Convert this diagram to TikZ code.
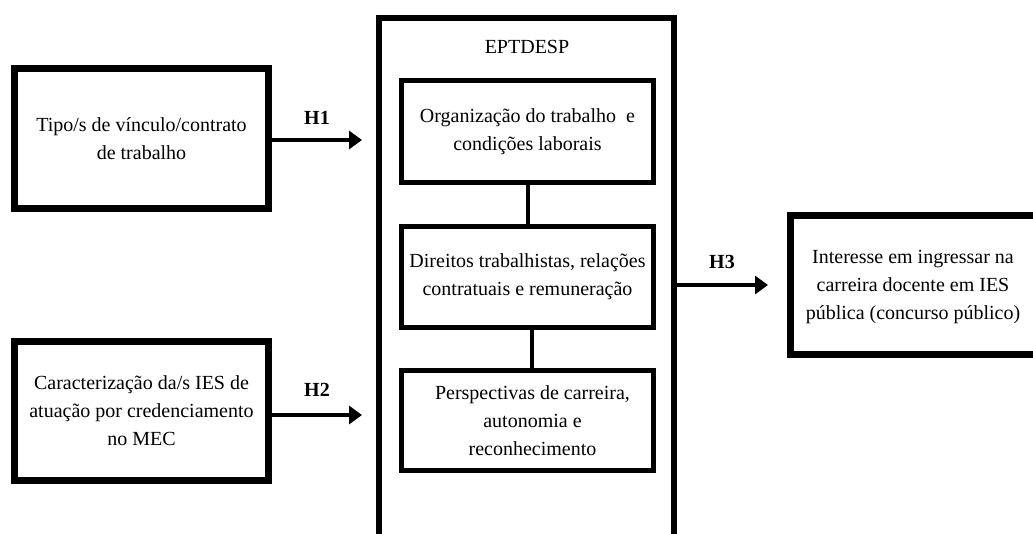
\documentclass[tikz,border=0pt]{standalone}
\usepackage{fontspec}
\setmainfont{Liberation Serif}
\usetikzlibrary{arrows.meta}
\tikzset{
  txt/.style={font=\fontsize{20}{28}\selectfont, align=center},
  outerbox/.style={draw, line width=7pt, inner sep=0pt, txt},
  innerbox/.style={draw, line width=5pt, inner sep=0pt, txt, minimum width=252pt},
  link/.style={line width=4pt},
  harrow/.style={line width=4pt, -{Triangle[length=13pt,width=18pt]}},
  hlabel/.style={font=\fontsize{20}{22}\selectfont\bfseries},
}
\begin{document}
\begin{tikzpicture}[x=1pt,y=-1pt]
\useasboundingbox (0,0) rectangle (1033,533);
\clip (0,0) rectangle (1033,533);
% left boxes
\node[outerbox, minimum width=254pt, minimum height=140pt] (tipo) at (141.5,138.5)
  {Tipo/s de vínculo/contrato\\de trabalho};
\node[outerbox, minimum width=254pt, minimum height=139pt] (carac) at (141.5,411)
  {Caracterização da/s IES de\\atuação por credenciamento\\no MEC};
% big box (open at the bottom)
\coordinate (bigtl) at (379,18);
\coordinate (bigtr) at (674,18);
\coordinate (bigbl) at (379,545);
\coordinate (bigbr) at (674,545);
\draw[line width=6pt] (bigbl) -- (bigtl) -- (bigtr) -- (bigbr);
\node[txt] (ept) at (527,47) {EPTDESP};
% inner boxes
\node[innerbox, minimum height=102pt] (org) at (527.5,131.5)
  {Organização do trabalho\ \ e\\condições laborais};
\node[innerbox, minimum height=101pt] (dir) at (527.5,277)
  {Direitos trabalhistas, relações\\contratuais e remuneração};
\node[innerbox, minimum height=100pt] (per) at (527.5,420.5)
  {\hspace*{10pt}Perspectivas de carreira,\\\hspace*{10pt}autonomia e\\\hspace*{10pt}reconhecimento};
\draw[link] (org.south) -- (dir.north);
\draw[link] ([xshift=4.5pt]dir.south) -- ([xshift=4.5pt]per.north);
% right box (its right side lies beyond the picture)
\node[outerbox, minimum width=280pt, minimum height=139pt] (inter) at (930,284.5) {};
\node[txt] (intertxt) at (913,287)
  {Interesse em ingressar na\\carreira docente em IES\\pública (concurso público)};
% arrows
\coordinate (h1end) at (362,140);
\coordinate (h2end) at (362,415);
\coordinate (bigr) at (677,285);
\coordinate (h3end) at (768,285);
\draw[harrow] (tipo.east |- h1end) -- (h1end);
\draw[harrow] (carac.east |- h2end) -- (h2end);
\draw[harrow] (bigr) -- (h3end);
\node[hlabel] (h1) at (317,118) {H1};
\node[hlabel] (h2) at (317,390) {H2};
\node[hlabel] (h3) at (722,262) {H3};
\end{tikzpicture}
\end{document}
